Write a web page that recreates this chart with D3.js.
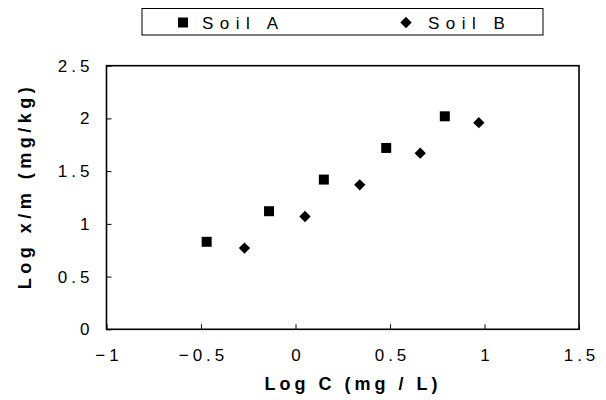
<!DOCTYPE html>
<html>
<head>
<meta charset="utf-8">
<script src="https://cdn.jsdelivr.net/npm/d3@7"></script>
<style>
  html, body { margin: 0; padding: 0; background: #fff; }
  svg { display: block; font-family: "Liberation Sans", Arial, sans-serif; }
</style>
</head>
<body>
<svg id="chart" width="606" height="400"></svg>
<script>
// ---- data ----
const xTicks = [-1, -0.5, 0, 0.5, 1, 1.5];
const yTicks = [0, 0.5, 1, 1.5, 2, 2.5];
const seriesNames = ["Soil A", "Soil B"];
const soilA_x = [-0.47, -0.14, 0.15, 0.48, 0.79];
const soilA_y = [0.83, 1.12, 1.42, 1.72, 2.02];
const soilB_x = [-0.27, 0.05, 0.34, 0.66, 0.97];
const soilB_y = [0.77, 1.07, 1.37, 1.67, 1.96];

const svg = d3.select("#chart");
const plot = { left: 106.5, right: 579, top: 65.7, bottom: 329.3 };

const x = d3.scaleLinear().domain([-1, 1.5]).range([plot.left, plot.right]);
const y = d3.scaleLinear().domain([0, 2.5]).range([plot.bottom, plot.top]);

const fmt = d => (d < 0 ? "\u2212" : "") + Math.abs(d).toString();

// plot border
svg.append("rect")
  .attr("x", plot.left).attr("y", plot.top)
  .attr("width", plot.right - plot.left).attr("height", plot.bottom - plot.top)
  .attr("fill", "none").attr("stroke", "#000").attr("stroke-width", 1.6);

// x axis
const xAxis = svg.append("g")
  .attr("transform", `translate(0,${plot.bottom})`)
  .call(d3.axisBottom(x).tickValues(xTicks).tickFormat(fmt)
    .tickSizeInner(-5).tickSizeOuter(0).tickPadding(20));
xAxis.select(".domain").remove();
xAxis.selectAll("line").attr("stroke", "#000");
xAxis.selectAll("text")
  .attr("fill", "#000")
  .style("font-size", "17px")
  .style("letter-spacing", "4px")
  .attr("dx", "2px");

// y axis
const yAxis = svg.append("g")
  .attr("transform", `translate(${plot.left},0)`)
  .call(d3.axisLeft(y).tickValues(yTicks).tickFormat(fmt)
    .tickSizeInner(-5).tickSizeOuter(0).tickPadding(13));
yAxis.select(".domain").remove();
yAxis.selectAll("line").attr("stroke", "#000");
yAxis.selectAll("text")
  .attr("fill", "#000")
  .style("font-size", "17px")
  .style("letter-spacing", "4px");

// axis titles
svg.append("text")
  .attr("x", 353).attr("y", 390)
  .attr("text-anchor", "middle")
  .style("font-size", "18px").style("font-weight", "bold")
  .style("letter-spacing", "4px")
  .text("Log C (mg / L)");

svg.append("text")
  .attr("transform", `translate(31,186) rotate(-90)`)
  .attr("text-anchor", "middle")
  .style("font-size", "18px").style("font-weight", "bold")
  .style("letter-spacing", "4.5px")
  .text("Log x/m (mg/kg)");

// markers
const squarePath = d3.symbol().type(d3.symbolSquare).size(100)();
const diamondPath = d3.symbol().type(d3.symbolSquare).size(64)();

svg.append("g").selectAll("path")
  .data(d3.zip(soilA_x, soilA_y))
  .join("path")
  .attr("d", squarePath)
  .attr("transform", d => `translate(${x(d[0])},${y(d[1])})`)
  .attr("fill", "#000");

svg.append("g").selectAll("path")
  .data(d3.zip(soilB_x, soilB_y))
  .join("path")
  .attr("d", diamondPath)
  .attr("transform", d => `translate(${x(d[0])},${y(d[1])}) rotate(45)`)
  .attr("fill", "#000");

// legend
svg.append("rect")
  .attr("x", 142).attr("y", 8.5).attr("width", 401).attr("height", 26.5)
  .attr("fill", "none").attr("stroke", "#000").attr("stroke-width", 1);

const legendItems = [
  { name: seriesNames[0], path: squarePath, mx: 183, tx: 202, rot: 0 },
  { name: seriesNames[1], path: diamondPath, mx: 406, tx: 428, rot: 45 }
];
const lg = svg.append("g").selectAll("g").data(legendItems).join("g");
lg.append("path")
  .attr("d", d => d.path)
  .attr("transform", d => `translate(${d.mx},22.5) rotate(${d.rot})`)
  .attr("fill", "#000");
lg.append("text")
  .attr("x", d => d.tx).attr("y", 29)
  .style("font-size", "17px")
  .style("letter-spacing", "6.5px")
  .text(d => d.name);
</script>
</body>
</html>
